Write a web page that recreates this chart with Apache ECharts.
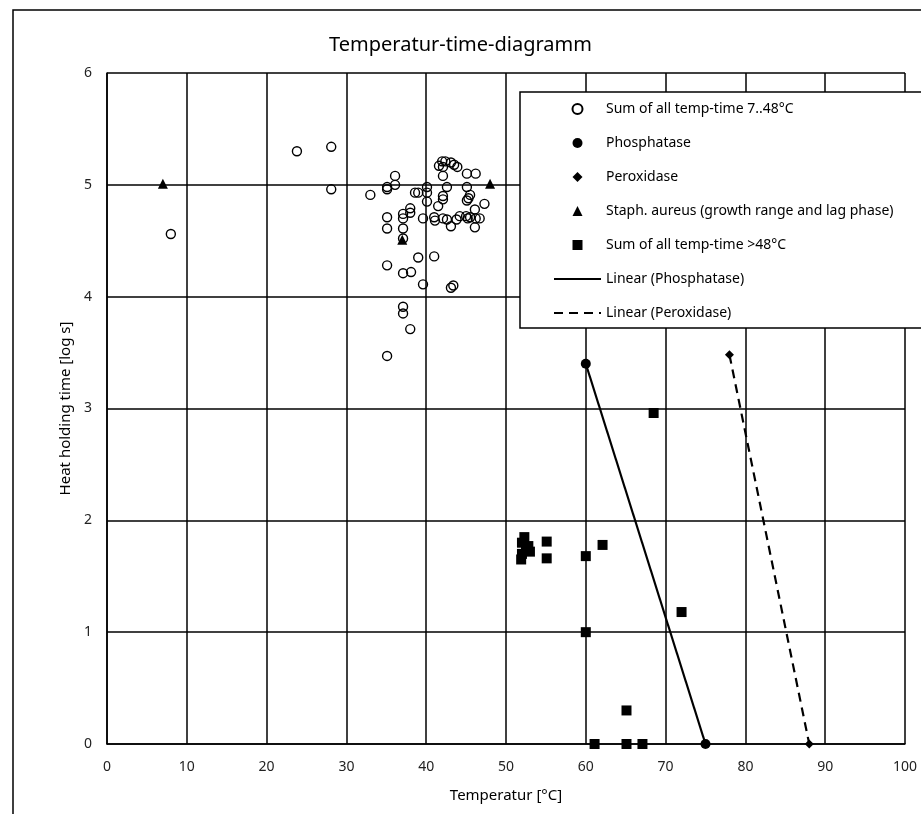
<!DOCTYPE html>
<html>
<head>
<meta charset="utf-8">
<script src="https://cdn.jsdelivr.net/npm/echarts@6/dist/echarts.min.js"></script>
<style>
  html, body { margin: 0; padding: 0; background: #fff; }
  #chart { width: 921px; height: 814px; }
</style>
</head>
<body>
<div id="chart"></div>
<script>
// Temperatur-time-diagramm: Daten

// Summe aller Temp-Zeit 7..48°C  [Temperatur, log s]
var sumLow = [
  [8, 4.56], [23.8, 5.30], [28.1, 5.34], [28.1, 4.96],
  [36.1, 5.08], [36.1, 5.00], [35.1, 4.98], [35.1, 4.96], [33.0, 4.91],
  [38.6, 4.93], [39.0, 4.93], [40.1, 4.98], [40.1, 4.93], [40.1, 4.85],
  [42.0, 5.21], [42.4, 5.21], [43.1, 5.20], [43.5, 5.18], [43.9, 5.16], [41.6, 5.17], [42.1, 5.16],
  [45.1, 5.10], [46.2, 5.10], [42.1, 5.08], [42.6, 4.98], [45.1, 4.98],
  [42.1, 4.90], [42.1, 4.87], [45.5, 4.91], [45.3, 4.88], [45.1, 4.86], [47.3, 4.83],
  [41.5, 4.81], [38.0, 4.79], [38.0, 4.75], [37.1, 4.74], [35.1, 4.71], [37.1, 4.70],
  [39.6, 4.70], [41.0, 4.71], [41.1, 4.68], [42.1, 4.70], [42.6, 4.69], [43.1, 4.63],
  [43.8, 4.69], [44.2, 4.72], [45.0, 4.72], [45.2, 4.70], [45.5, 4.71], [46.1, 4.78],
  [46.2, 4.70], [46.7, 4.70], [46.1, 4.62], [35.1, 4.61], [37.1, 4.61], [37.1, 4.52],
  [39.0, 4.35], [41.0, 4.36], [35.1, 4.28], [37.1, 4.21], [38.1, 4.22], [39.6, 4.11],
  [43.1, 4.08], [43.4, 4.10], [37.1, 3.91], [37.1, 3.85], [38.0, 3.71], [35.1, 3.47]
];

var phosphatase = [[60, 3.40], [75, 0]];
var peroxidase = [[78, 3.48], [88, 0]];
var staph = [[7, 5.01], [48, 5.01], [37, 4.51]];

// Summe aller Temp-Zeit >48°C
var sumHigh = [
  [52.3, 1.85], [52.0, 1.80], [52.8, 1.77], [52.6, 1.73], [52.0, 1.70], [51.9, 1.65],
  [52.5, 1.75], [53.0, 1.72], [55.1, 1.81], [55.1, 1.66], [60.0, 1.68], [62.1, 1.78],
  [60.0, 1.00], [72.0, 1.18], [65.1, 0.30], [61.1, 0], [65.1, 0], [67.1, 0], [68.5, 2.96]
];

// Trendlinien (Endpunkte)
var trendPhosphatase = [[60, 3.40], [75, 0]];
var trendPeroxidase = [[78, 3.48], [88, 0]];

var legendNames = [
  'Sum of all temp-time 7..48°C',
  'Phosphatase',
  'Peroxidase',
  'Staph. aureus (growth range and lag phase)',
  'Sum of all temp-time >48°C',
  'Linear (Phosphatase)',
  'Linear (Peroxidase)'
];

var FONT = 'Noto Sans';
var myChart = echarts.init(document.getElementById('chart'));

var hideDot = { color: 'rgba(0,0,0,0)', borderColor: 'rgba(0,0,0,0)', borderWidth: 0 };
var solidBlack = { color: '#000', opacity: 1 };

var option = {
  backgroundColor: '#fff',
  animation: false,
  title: {
    text: 'Temperatur-time-diagramm',
    left: 'center',
    top: 30,
    textStyle: { fontFamily: FONT, fontSize: 20, fontWeight: 'normal', color: '#000' }
  },
  graphic: [{
    type: 'rect',
    shape: { x: 13, y: 10, width: 1000, height: 900 },
    style: { fill: 'none', stroke: '#000', lineWidth: 1.5 },
    silent: true,
    z: -10
  }],
  legend: {
    orient: 'vertical',
    left: 520,
    top: 92,
    padding: [10, 60, 8, 33],
    itemWidth: 47,
    itemHeight: 10,
    itemGap: 20,
    symbolKeepAspect: true,
    backgroundColor: '#fff',
    borderColor: '#000',
    borderWidth: 1.5,
    textStyle: { fontFamily: FONT, fontSize: 14, color: '#000', lineHeight: 14 },
    data: [
      { name: legendNames[0], icon: 'circle', itemStyle: { color: '#fff', borderColor: '#000', borderWidth: 2 } },
      { name: legendNames[1], icon: 'circle' },
      { name: legendNames[2], icon: 'path://M5,0L10,5L5,10L0,5Z' },
      { name: legendNames[3], icon: 'path://M5,0L10,10L0,10Z' },
      { name: legendNames[4], icon: 'path://M0,0L10,0L10,10L0,10Z' },
      { name: legendNames[5], itemStyle: hideDot },
      { name: legendNames[6], itemStyle: hideDot }
    ]
  },
  grid: { left: 107, right: 16, top: 73, bottom: 70 },
  xAxis: {
    type: 'value',
    min: 0, max: 100, interval: 10,
    name: 'Temperatur [°C]',
    nameLocation: 'middle',
    nameGap: 44,
    nameTextStyle: { fontFamily: FONT, fontSize: 15, color: '#000' },
    axisLine: { lineStyle: { color: '#000', width: 1.5 } },
    axisTick: { show: false },
    axisLabel: { fontFamily: FONT, fontSize: 14, color: '#222', margin: 16 },
    splitLine: { show: true, lineStyle: { color: '#000', width: 1.5 } }
  },
  yAxis: {
    type: 'value',
    min: 0, max: 6, interval: 1,
    name: 'Heat holding time [log s]',
    nameLocation: 'middle',
    nameGap: 29,
    nameTextStyle: { fontFamily: FONT, fontSize: 15, color: '#000' },
    axisLine: { show: true, lineStyle: { color: '#000', width: 1.5 } },
    axisTick: { show: false },
    axisLabel: { fontFamily: FONT, fontSize: 14, color: '#222', margin: 15 },
    splitLine: { show: true, lineStyle: { color: '#000', width: 1.5 } }
  },
  series: [
    {
      name: legendNames[0], type: 'scatter', data: sumLow,
      symbol: 'circle', symbolSize: 9,
      itemStyle: { color: 'rgba(255,255,255,0)', borderColor: '#000', borderWidth: 1.4, opacity: 1 },
      z: 3
    },
    {
      name: legendNames[1], type: 'scatter', data: phosphatase,
      symbol: 'circle', symbolSize: 10,
      itemStyle: solidBlack, z: 4
    },
    {
      name: legendNames[2], type: 'scatter', data: peroxidase,
      symbol: 'diamond', symbolSize: 9,
      itemStyle: solidBlack, z: 4
    },
    {
      name: legendNames[3], type: 'scatter', data: staph,
      symbol: 'triangle', symbolSize: 10,
      itemStyle: solidBlack, z: 4
    },
    {
      name: legendNames[4], type: 'scatter', data: sumHigh,
      symbol: 'rect', symbolSize: 10,
      itemStyle: solidBlack, z: 4
    },
    {
      name: legendNames[5], type: 'line', data: trendPhosphatase,
      symbol: 'none', showSymbol: false,
      lineStyle: { color: '#000', width: 2.2, type: 'solid' },
      itemStyle: { color: '#000' }, z: 2
    },
    {
      name: legendNames[6], type: 'line', data: trendPeroxidase,
      symbol: 'none', showSymbol: false,
      lineStyle: { color: '#000', width: 2.2, type: [9, 6] },
      itemStyle: { color: '#000' }, z: 2
    }
  ]
};
myChart.setOption(option);
</script>
</body>
</html>
